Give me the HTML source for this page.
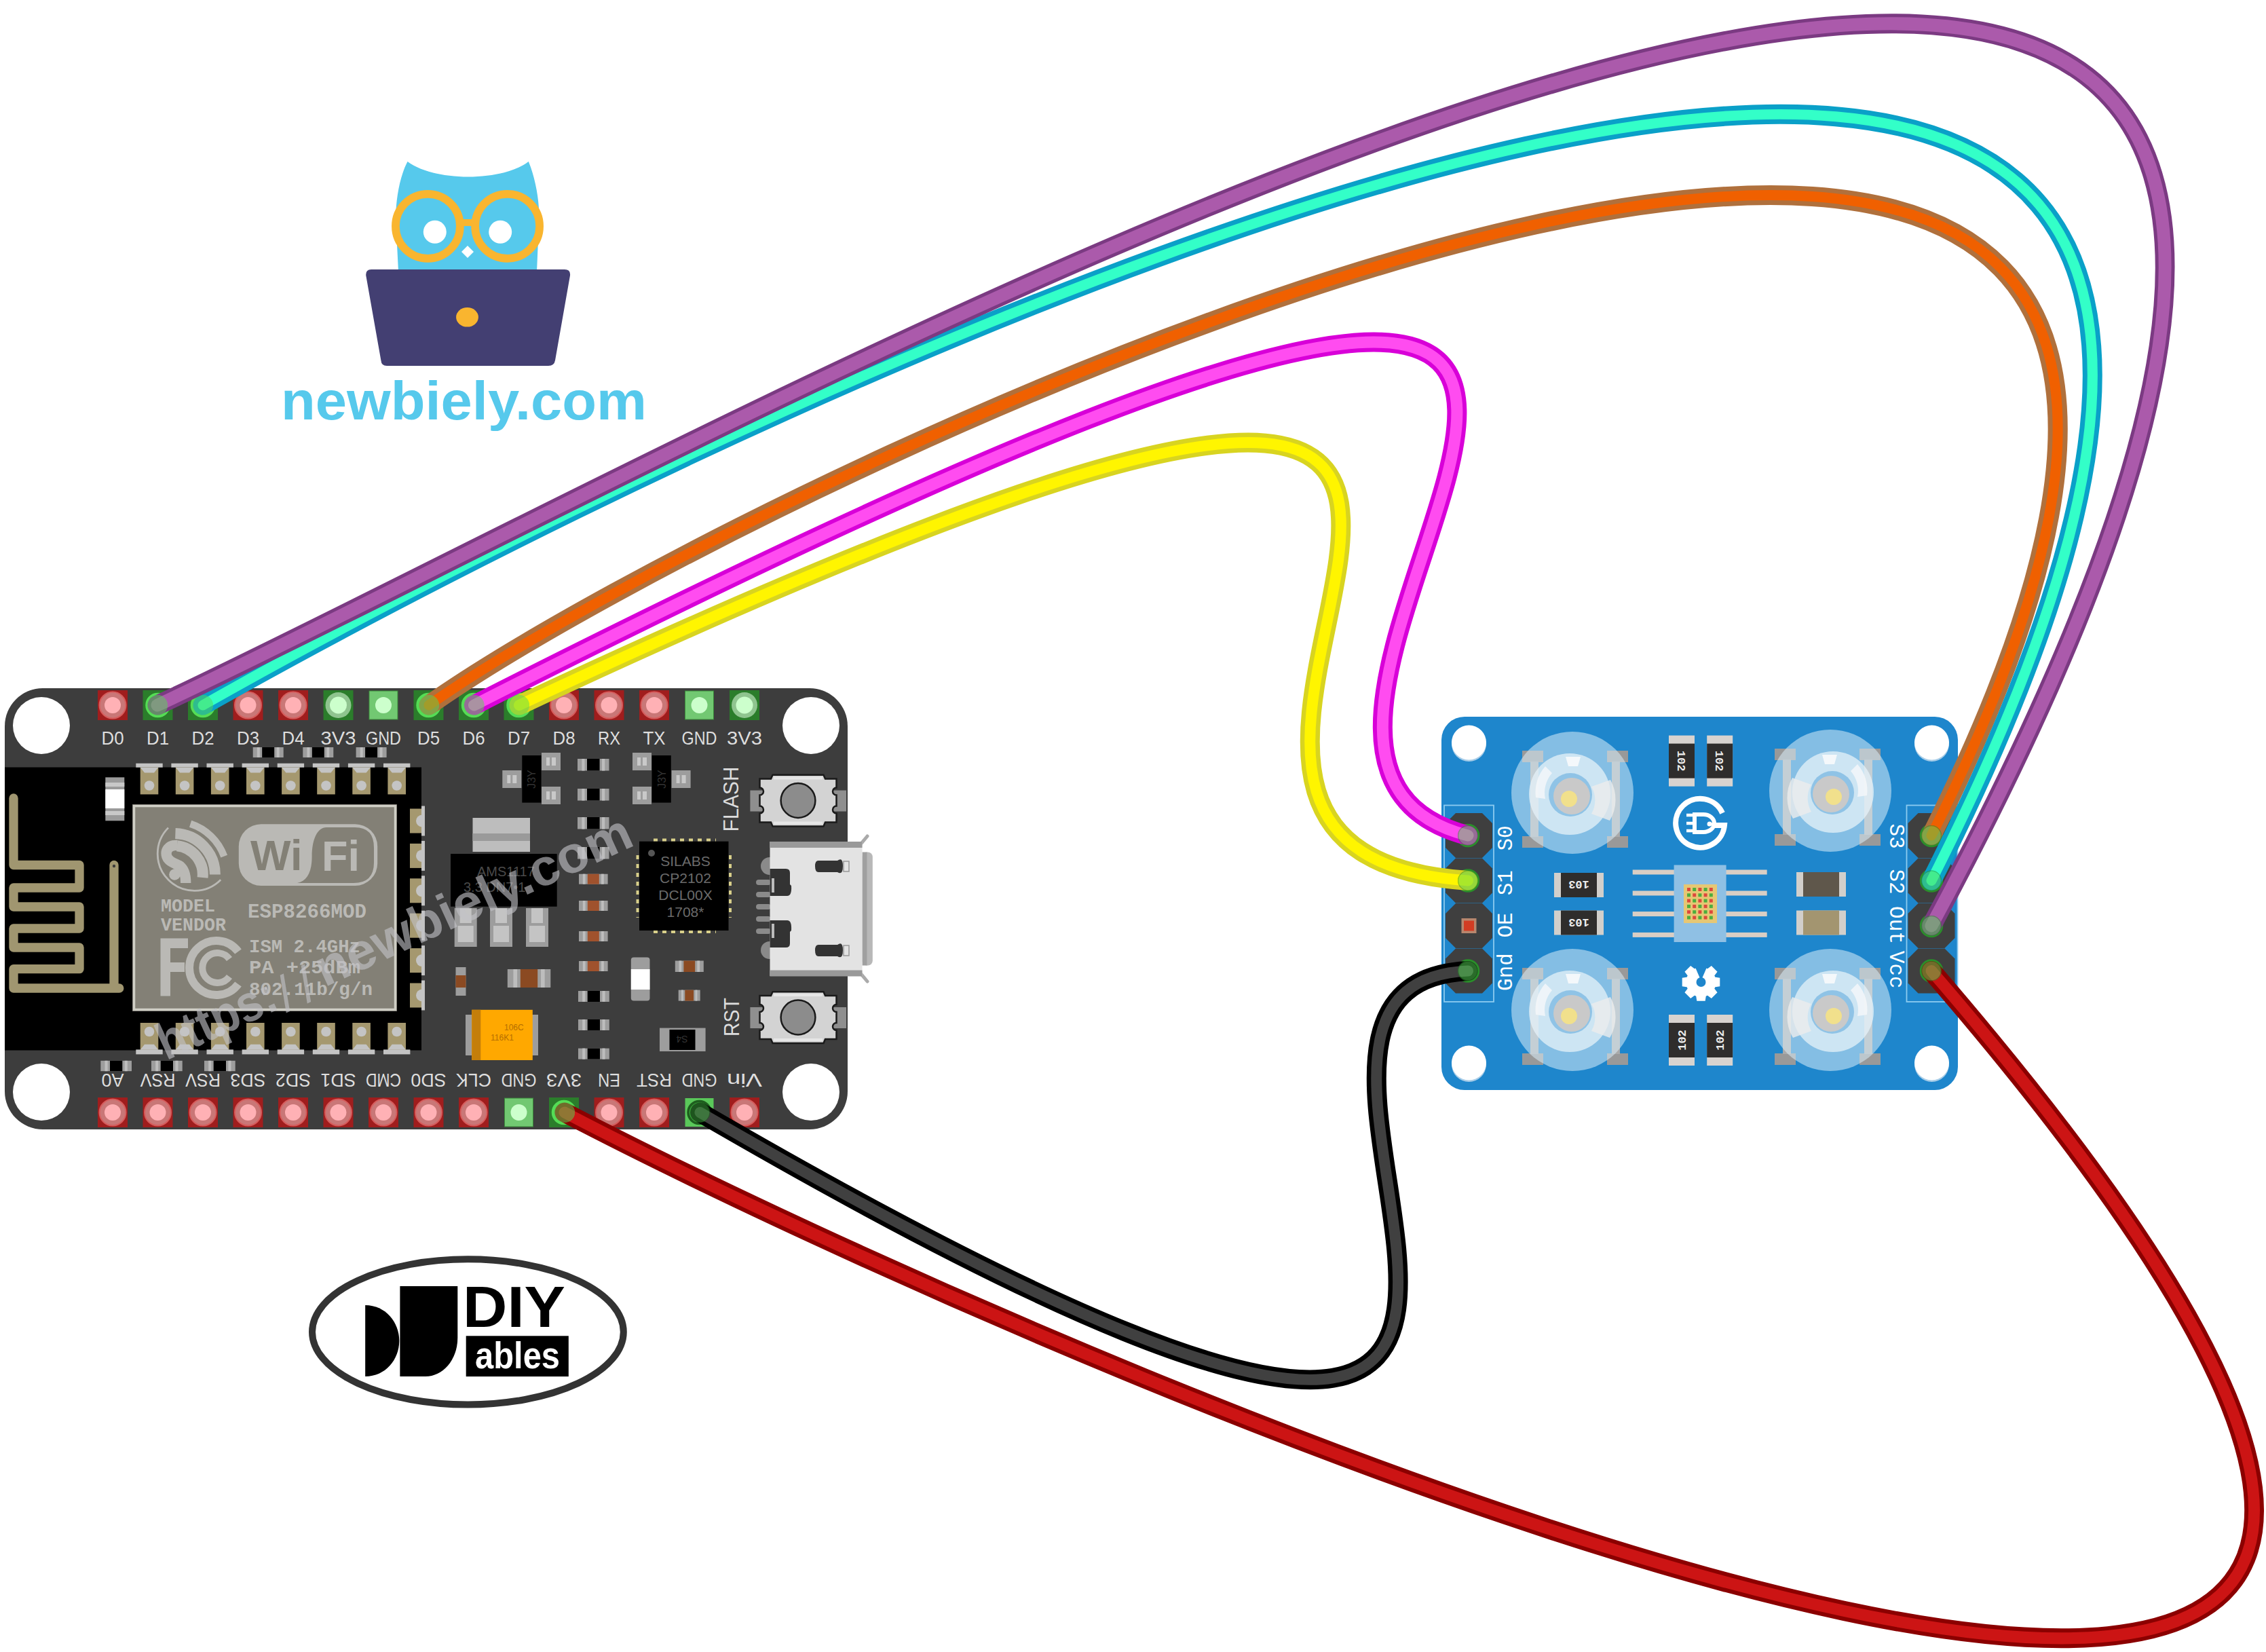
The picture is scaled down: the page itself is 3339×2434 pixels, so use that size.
<!DOCTYPE html><html><head><meta charset="utf-8"><style>html,body{margin:0;padding:0;background:#fff;overflow:hidden}svg{display:block}</style></head><body>
<svg width="3339" height="2434" viewBox="0 0 3339 2434" font-family="Liberation Sans, sans-serif">
<rect width="3339" height="2434" fill="#fff"/>
<g id="owl">
<path d="M600.5,238 C640,268 740,268 778.8,238 C792,270 796,310 794,330 L791,400 H587 L583.5,330 C582,300 588,262 600.5,238 Z" fill="#56c9ec"/>
<g fill="none" stroke="#f9b52f" stroke-width="11.7">
<circle cx="630.4" cy="333.3" r="47.5"/>
<circle cx="747.6" cy="333.3" r="47.5"/>
</g>
<rect x="676" y="323" width="26" height="10" fill="#f9b52f"/>
<circle cx="640.8" cy="341.8" r="17" fill="#fff"/>
<circle cx="737.2" cy="341.8" r="17" fill="#fff"/>
<path d="M689,362 L698,371 L689,380 L680,371 Z" fill="#fff"/>
<path d="M547,397 H832 Q841,397 840,406 L818,531 Q816.6,539 808,539 H570 Q562,539 561.4,531 L539.3,406 Q538.5,397 547,397 Z" fill="#433f72"/>
<ellipse cx="688.5" cy="467.3" rx="16.4" ry="14.3" fill="#f9b52f"/>
<text x="414" y="618" font-family="Liberation Sans" font-weight="bold" font-size="80" fill="#56c9ec" textLength="539" lengthAdjust="spacingAndGlyphs">newbiely.com</text>
</g>
<g id="diyables">
<ellipse cx="689.4" cy="1962.4" rx="229.4" ry="107.1" fill="#fff" stroke="#333" stroke-width="10"/>
<path d="M538.2,1923 C568,1923 588.3,1948 588.3,1975.5 C588.3,2003 568,2028 538.2,2028 Z" fill="#000"/>
<path d="M589.4,1895 H674.3 V1971 C674.3,2004 652,2028 627,2028 H589.4 Z" fill="#000"/>
<text x="682" y="1955" font-family="Liberation Sans" font-weight="bold" font-size="86" fill="#000" textLength="151" lengthAdjust="spacingAndGlyphs">DIY</text>
<rect x="686.7" y="1968.3" width="151.1" height="59.8" fill="#000"/>
<text x="700" y="2016" font-family="Liberation Sans" font-weight="bold" font-size="56" fill="#fff" textLength="125" lengthAdjust="spacingAndGlyphs">ables</text>
</g>
<g id="nodemcu">
<rect x="7" y="1014" width="1242" height="650" rx="56" fill="#3d3d3d"/>
<circle cx="61" cy="1069" r="42" fill="#fff"/>
<circle cx="1195" cy="1069" r="42" fill="#fff"/>
<circle cx="61" cy="1609" r="42" fill="#fff"/>
<circle cx="1195" cy="1609" r="42" fill="#fff"/>
<rect x="7" y="1130.5" width="614" height="417" fill="#000"/>
<path d="M20,1176 V1274.5 H117 V1308 H20 V1336 H117 V1368 H20 V1396 H117 V1427.7 H20 V1456 H175.8 M168,1456 V1274.5" fill="none" stroke="#a09670" stroke-width="13.3" stroke-linecap="round" stroke-linejoin="round"/>
<circle cx="168" cy="1276" r="2.2" fill="#3a3a3a"/>
<rect x="155.3" y="1145.3" width="28" height="64" fill="#9a9a9a"/>
<rect x="155.3" y="1153" width="28" height="6" fill="#c8c8c8"/>
<rect x="155.3" y="1195" width="28" height="6" fill="#c8c8c8"/>
<rect x="155.3" y="1163" width="28" height="28" fill="#fff"/>
<rect x="200.3" y="1124.7" width="39.4" height="6" fill="#c4c4c4"/>
<rect x="206.7" y="1130.7" width="26.6" height="39.7" fill="#a5986f"/>
<path d="M206.7,1130.7 H233.3 L227,1138.6 H213 Z" fill="#c4c4c4"/>
<circle cx="220" cy="1157.5" r="7.3" fill="#c4c4c4"/>
<rect x="252.4" y="1124.7" width="39.4" height="6" fill="#c4c4c4"/>
<rect x="258.8" y="1130.7" width="26.6" height="39.7" fill="#a5986f"/>
<path d="M258.8,1130.7 H285.4 L279.1,1138.6 H265.1 Z" fill="#c4c4c4"/>
<circle cx="272.1" cy="1157.5" r="7.3" fill="#c4c4c4"/>
<rect x="304.5" y="1124.7" width="39.4" height="6" fill="#c4c4c4"/>
<rect x="310.9" y="1130.7" width="26.6" height="39.7" fill="#a5986f"/>
<path d="M310.9,1130.7 H337.5 L331.2,1138.6 H317.2 Z" fill="#c4c4c4"/>
<circle cx="324.2" cy="1157.5" r="7.3" fill="#c4c4c4"/>
<rect x="356.6" y="1124.7" width="39.4" height="6" fill="#c4c4c4"/>
<rect x="363" y="1130.7" width="26.6" height="39.7" fill="#a5986f"/>
<path d="M363,1130.7 H389.6 L383.3,1138.6 H369.3 Z" fill="#c4c4c4"/>
<circle cx="376.3" cy="1157.5" r="7.3" fill="#c4c4c4"/>
<rect x="408.7" y="1124.7" width="39.4" height="6" fill="#c4c4c4"/>
<rect x="415.1" y="1130.7" width="26.6" height="39.7" fill="#a5986f"/>
<path d="M415.1,1130.7 H441.7 L435.4,1138.6 H421.4 Z" fill="#c4c4c4"/>
<circle cx="428.4" cy="1157.5" r="7.3" fill="#c4c4c4"/>
<rect x="460.8" y="1124.7" width="39.4" height="6" fill="#c4c4c4"/>
<rect x="467.2" y="1130.7" width="26.6" height="39.7" fill="#a5986f"/>
<path d="M467.2,1130.7 H493.8 L487.5,1138.6 H473.5 Z" fill="#c4c4c4"/>
<circle cx="480.5" cy="1157.5" r="7.3" fill="#c4c4c4"/>
<rect x="512.9" y="1124.7" width="39.4" height="6" fill="#c4c4c4"/>
<rect x="519.3" y="1130.7" width="26.6" height="39.7" fill="#a5986f"/>
<path d="M519.3,1130.7 H545.9 L539.6,1138.6 H525.6 Z" fill="#c4c4c4"/>
<circle cx="532.6" cy="1157.5" r="7.3" fill="#c4c4c4"/>
<rect x="565" y="1124.7" width="39.4" height="6" fill="#c4c4c4"/>
<rect x="571.4" y="1130.7" width="26.6" height="39.7" fill="#a5986f"/>
<path d="M571.4,1130.7 H598 L591.7,1138.6 H577.7 Z" fill="#c4c4c4"/>
<circle cx="584.7" cy="1157.5" r="7.3" fill="#c4c4c4"/>
<rect x="200.3" y="1546.4" width="39.4" height="7" fill="#c4c4c4"/>
<rect x="206.7" y="1507" width="26.6" height="39.7" fill="#a5986f"/>
<path d="M206.7,1546.7 H233.3 L227,1538.8 H213 Z" fill="#c4c4c4"/>
<circle cx="220" cy="1520" r="7.3" fill="#c4c4c4"/>
<rect x="252.4" y="1546.4" width="39.4" height="7" fill="#c4c4c4"/>
<rect x="258.8" y="1507" width="26.6" height="39.7" fill="#a5986f"/>
<path d="M258.8,1546.7 H285.4 L279.1,1538.8 H265.1 Z" fill="#c4c4c4"/>
<circle cx="272.1" cy="1520" r="7.3" fill="#c4c4c4"/>
<rect x="304.5" y="1546.4" width="39.4" height="7" fill="#c4c4c4"/>
<rect x="310.9" y="1507" width="26.6" height="39.7" fill="#a5986f"/>
<path d="M310.9,1546.7 H337.5 L331.2,1538.8 H317.2 Z" fill="#c4c4c4"/>
<circle cx="324.2" cy="1520" r="7.3" fill="#c4c4c4"/>
<rect x="356.6" y="1546.4" width="39.4" height="7" fill="#c4c4c4"/>
<rect x="363" y="1507" width="26.6" height="39.7" fill="#a5986f"/>
<path d="M363,1546.7 H389.6 L383.3,1538.8 H369.3 Z" fill="#c4c4c4"/>
<circle cx="376.3" cy="1520" r="7.3" fill="#c4c4c4"/>
<rect x="408.7" y="1546.4" width="39.4" height="7" fill="#c4c4c4"/>
<rect x="415.1" y="1507" width="26.6" height="39.7" fill="#a5986f"/>
<path d="M415.1,1546.7 H441.7 L435.4,1538.8 H421.4 Z" fill="#c4c4c4"/>
<circle cx="428.4" cy="1520" r="7.3" fill="#c4c4c4"/>
<rect x="460.8" y="1546.4" width="39.4" height="7" fill="#c4c4c4"/>
<rect x="467.2" y="1507" width="26.6" height="39.7" fill="#a5986f"/>
<path d="M467.2,1546.7 H493.8 L487.5,1538.8 H473.5 Z" fill="#c4c4c4"/>
<circle cx="480.5" cy="1520" r="7.3" fill="#c4c4c4"/>
<rect x="512.9" y="1546.4" width="39.4" height="7" fill="#c4c4c4"/>
<rect x="519.3" y="1507" width="26.6" height="39.7" fill="#a5986f"/>
<path d="M519.3,1546.7 H545.9 L539.6,1538.8 H525.6 Z" fill="#c4c4c4"/>
<circle cx="532.6" cy="1520" r="7.3" fill="#c4c4c4"/>
<rect x="565" y="1546.4" width="39.4" height="7" fill="#c4c4c4"/>
<rect x="571.4" y="1507" width="26.6" height="39.7" fill="#a5986f"/>
<path d="M571.4,1546.7 H598 L591.7,1538.8 H577.7 Z" fill="#c4c4c4"/>
<circle cx="584.7" cy="1520" r="7.3" fill="#c4c4c4"/>
<rect x="604" y="1191.5" width="18" height="36" fill="#a5986f"/>
<path d="M622,1200.5 A9,9 0 0 0 622,1218.5 Z" fill="#c4c4c4"/>
<rect x="621" y="1187.5" width="5" height="44" fill="#c4c4c4"/>
<rect x="604" y="1242.9" width="18" height="36" fill="#a5986f"/>
<path d="M622,1251.9 A9,9 0 0 0 622,1269.9 Z" fill="#c4c4c4"/>
<rect x="621" y="1238.9" width="5" height="44" fill="#c4c4c4"/>
<rect x="604" y="1294.3" width="18" height="36" fill="#a5986f"/>
<path d="M622,1303.3 A9,9 0 0 0 622,1321.3 Z" fill="#c4c4c4"/>
<rect x="621" y="1290.3" width="5" height="44" fill="#c4c4c4"/>
<rect x="604" y="1345.7" width="18" height="36" fill="#a5986f"/>
<path d="M622,1354.7 A9,9 0 0 0 622,1372.7 Z" fill="#c4c4c4"/>
<rect x="621" y="1341.7" width="5" height="44" fill="#c4c4c4"/>
<rect x="604" y="1397.1" width="18" height="36" fill="#a5986f"/>
<path d="M622,1406.1 A9,9 0 0 0 622,1424.1 Z" fill="#c4c4c4"/>
<rect x="621" y="1393.1" width="5" height="44" fill="#c4c4c4"/>
<rect x="604" y="1448.5" width="18" height="36" fill="#a5986f"/>
<path d="M622,1457.5 A9,9 0 0 0 622,1475.5 Z" fill="#c4c4c4"/>
<rect x="621" y="1444.5" width="5" height="44" fill="#c4c4c4"/>
<rect x="195" y="1185" width="390" height="305" fill="#6f6d66"/>
<rect x="197.5" y="1187.5" width="385" height="300" fill="#838076" stroke="#cfcec5" stroke-width="3.5"/>
<g transform="translate(225,1205) scale(0.0696)" fill="none" stroke="#bab9b5">
<path d="M330,210 A730,730 0 1 0 1440,1310" stroke-width="40"/>
<path d="M799,125 A1130,1130 0 0 1 1512,814" stroke-width="150"/>
<path d="M480,331 A870,870 0 0 1 1320,1200" stroke-width="230"/>
<path d="M514,593 A610,610 0 0 1 1057,1264" stroke-width="230"/>
<path d="M520,580 C330,570 260,700 300,820 C340,930 470,960 560,1010 C680,1080 700,1250 700,1380" stroke-width="220"/>
<circle cx="465" cy="1200" r="118" fill="#bab9b5" stroke="none"/>
</g>
<rect x="351.8" y="1214.2" width="204.4" height="90.8" rx="33" fill="#bab9b5"/>
<path d="M481,1219 H523 Q551,1219 551,1249 V1271 Q551,1301 521,1301 H438 C452,1298 459.6,1286 459.6,1262 C459.6,1236 468,1219 481,1219 Z" fill="#838076"/>
<text x="369" y="1282.2" font-family="Liberation Sans" font-weight="bold" font-size="63" fill="#838076">Wi</text>
<text x="474" y="1282.7" font-family="Liberation Sans" font-weight="bold" font-size="63" fill="#bab9b5" textLength="56" lengthAdjust="spacingAndGlyphs">Fi</text>
<text x="237" y="1342.7" font-family="Liberation Mono" font-weight="bold" fill="#bab9b5" font-size="27" textLength="80" lengthAdjust="spacingAndGlyphs">MODEL</text>
<text x="237" y="1370.8" font-family="Liberation Mono" font-weight="bold" fill="#bab9b5" font-size="27" textLength="96" lengthAdjust="spacingAndGlyphs">VENDOR</text>
<text x="365" y="1352.4" font-family="Liberation Mono" font-weight="bold" fill="#bab9b5" font-size="29" textLength="175" lengthAdjust="spacingAndGlyphs">ESP8266MOD</text>
<text x="367" y="1402.7" font-family="Liberation Mono" font-weight="bold" fill="#bab9b5" font-size="27" textLength="164" lengthAdjust="spacingAndGlyphs">ISM 2.4GHz</text>
<text x="367" y="1433.7" font-family="Liberation Mono" font-weight="bold" fill="#bab9b5" font-size="27" textLength="164" lengthAdjust="spacingAndGlyphs">PA  +25dBm</text>
<text x="367" y="1466" font-family="Liberation Mono" font-weight="bold" fill="#bab9b5" font-size="27" textLength="182" lengthAdjust="spacingAndGlyphs">802.11b/g/n</text>
<path d="M236.5,1382.4 H277 V1397 H251 V1418 H272 V1432 H251 V1467.6 H236.5 Z" fill="#bab9b5"/>
<path d="M351,1402 A40,40 0 1 0 351,1450" fill="none" stroke="#bab9b5" stroke-width="12"/>
<path d="M338,1413 A22,22 0 1 0 338,1439" fill="none" stroke="#bab9b5" stroke-width="10"/>
<rect x="372.7" y="1101" width="45" height="15" fill="#9d9d9d"/><rect x="378.8" y="1101" width="4" height="15" fill="#bdbdbd"/><rect x="407.6" y="1101" width="4" height="15" fill="#bdbdbd"/><rect x="386.2" y="1101" width="18" height="15" fill="#000"/>
<rect x="446.3" y="1101" width="45" height="15" fill="#9d9d9d"/><rect x="452.4" y="1101" width="4" height="15" fill="#bdbdbd"/><rect x="481.2" y="1101" width="4" height="15" fill="#bdbdbd"/><rect x="459.8" y="1101" width="18" height="15" fill="#000"/>
<rect x="524.6" y="1101" width="45" height="15" fill="#9d9d9d"/><rect x="530.7" y="1101" width="4" height="15" fill="#bdbdbd"/><rect x="559.5" y="1101" width="4" height="15" fill="#bdbdbd"/><rect x="538.1" y="1101" width="18" height="15" fill="#000"/>
<rect x="148.3" y="1562.8" width="45.7" height="15.4" fill="#9d9d9d"/><rect x="154.5" y="1562.8" width="4.1" height="15.4" fill="#bdbdbd"/><rect x="183.7" y="1562.8" width="4.1" height="15.4" fill="#bdbdbd"/><rect x="162" y="1562.8" width="18.3" height="15.4" fill="#000"/>
<rect x="223" y="1562.8" width="45.7" height="15.4" fill="#9d9d9d"/><rect x="229.2" y="1562.8" width="4.1" height="15.4" fill="#bdbdbd"/><rect x="258.4" y="1562.8" width="4.1" height="15.4" fill="#bdbdbd"/><rect x="236.7" y="1562.8" width="18.3" height="15.4" fill="#000"/>
<rect x="301" y="1562.8" width="45.7" height="15.4" fill="#9d9d9d"/><rect x="307.2" y="1562.8" width="4.1" height="15.4" fill="#bdbdbd"/><rect x="336.4" y="1562.8" width="4.1" height="15.4" fill="#bdbdbd"/><rect x="314.7" y="1562.8" width="18.3" height="15.4" fill="#000"/>
<rect x="769.3" y="1113" width="28.3" height="69.6" fill="#000"/>
<rect x="798" y="1109" width="28" height="26" fill="#9d9d9d"/>
<rect x="805" y="1116" width="14" height="12" fill="#c9c9c9"/>
<rect x="810" y="1116" width="3" height="12" fill="#9d9d9d"/>
<rect x="798" y="1159" width="28" height="26" fill="#9d9d9d"/>
<rect x="805" y="1166" width="14" height="12" fill="#c9c9c9"/>
<rect x="810" y="1166" width="3" height="12" fill="#9d9d9d"/>
<rect x="740.3" y="1135" width="28" height="26" fill="#9d9d9d"/>
<rect x="747.3" y="1142" width="14" height="12" fill="#c9c9c9"/>
<rect x="752.3" y="1142" width="3" height="12" fill="#9d9d9d"/>
<text transform="translate(789.3,1148) rotate(-90)" text-anchor="middle" font-family="Liberation Sans" font-size="16" fill="#333">J3Y</text>
<rect x="960.5" y="1113" width="28.3" height="69.6" fill="#000"/>
<rect x="932" y="1109" width="28" height="26" fill="#9d9d9d"/>
<rect x="939" y="1116" width="14" height="12" fill="#c9c9c9"/>
<rect x="944" y="1116" width="3" height="12" fill="#9d9d9d"/>
<rect x="932" y="1159" width="28" height="26" fill="#9d9d9d"/>
<rect x="939" y="1166" width="14" height="12" fill="#c9c9c9"/>
<rect x="944" y="1166" width="3" height="12" fill="#9d9d9d"/>
<rect x="989.6" y="1135" width="28" height="26" fill="#9d9d9d"/>
<rect x="996.6" y="1142" width="14" height="12" fill="#c9c9c9"/>
<rect x="1001.6" y="1142" width="3" height="12" fill="#9d9d9d"/>
<text transform="translate(980.5,1148) rotate(-90)" text-anchor="middle" font-family="Liberation Sans" font-size="16" fill="#333">J3Y</text>
<rect x="851" y="1118" width="46.5" height="17.5" fill="#9d9d9d"/><rect x="857.3" y="1118" width="4.2" height="17.5" fill="#bdbdbd"/><rect x="887" y="1118" width="4.2" height="17.5" fill="#bdbdbd"/><rect x="865" y="1118" width="18.6" height="17.5" fill="#000"/>
<rect x="851" y="1162" width="46.5" height="17.5" fill="#9d9d9d"/><rect x="857.3" y="1162" width="4.2" height="17.5" fill="#bdbdbd"/><rect x="887" y="1162" width="4.2" height="17.5" fill="#bdbdbd"/><rect x="865" y="1162" width="18.6" height="17.5" fill="#000"/>
<rect x="851" y="1204" width="46.5" height="17.5" fill="#9d9d9d"/><rect x="857.3" y="1204" width="4.2" height="17.5" fill="#bdbdbd"/><rect x="887" y="1204" width="4.2" height="17.5" fill="#bdbdbd"/><rect x="865" y="1204" width="18.6" height="17.5" fill="#000"/>
<rect x="851" y="1248" width="46.5" height="17.5" fill="#9d9d9d"/><rect x="857.3" y="1248" width="4.2" height="17.5" fill="#bdbdbd"/><rect x="887" y="1248" width="4.2" height="17.5" fill="#bdbdbd"/><rect x="865" y="1248" width="18.6" height="17.5" fill="#000"/>
<rect x="853" y="1287.7" width="42.6" height="15" fill="#9d9d9d"/><rect x="858.8" y="1287.7" width="3.8" height="15" fill="#bdbdbd"/><rect x="886" y="1287.7" width="3.8" height="15" fill="#bdbdbd"/><rect x="865.8" y="1287.7" width="17" height="15" fill="#a0522d"/>
<rect x="853" y="1327" width="42.6" height="15" fill="#9d9d9d"/><rect x="858.8" y="1327" width="3.8" height="15" fill="#bdbdbd"/><rect x="886" y="1327" width="3.8" height="15" fill="#bdbdbd"/><rect x="865.8" y="1327" width="17" height="15" fill="#a0522d"/>
<rect x="853" y="1372" width="42.6" height="15" fill="#9d9d9d"/><rect x="858.8" y="1372" width="3.8" height="15" fill="#bdbdbd"/><rect x="886" y="1372" width="3.8" height="15" fill="#bdbdbd"/><rect x="865.8" y="1372" width="17" height="15" fill="#a0522d"/>
<rect x="853" y="1416" width="42.6" height="15" fill="#9d9d9d"/><rect x="858.8" y="1416" width="3.8" height="15" fill="#bdbdbd"/><rect x="886" y="1416" width="3.8" height="15" fill="#bdbdbd"/><rect x="865.8" y="1416" width="17" height="15" fill="#a0522d"/>
<rect x="852" y="1460" width="45.8" height="16" fill="#9d9d9d"/><rect x="858.2" y="1460" width="4.1" height="16" fill="#bdbdbd"/><rect x="887.5" y="1460" width="4.1" height="16" fill="#bdbdbd"/><rect x="865.7" y="1460" width="18.3" height="16" fill="#000"/>
<rect x="852" y="1502" width="45.8" height="16" fill="#9d9d9d"/><rect x="858.2" y="1502" width="4.1" height="16" fill="#bdbdbd"/><rect x="887.5" y="1502" width="4.1" height="16" fill="#bdbdbd"/><rect x="865.7" y="1502" width="18.3" height="16" fill="#000"/>
<rect x="852" y="1544.6" width="45.8" height="16" fill="#9d9d9d"/><rect x="858.2" y="1544.6" width="4.1" height="16" fill="#bdbdbd"/><rect x="887.5" y="1544.6" width="4.1" height="16" fill="#bdbdbd"/><rect x="865.7" y="1544.6" width="18.3" height="16" fill="#000"/>
<rect x="696.5" y="1205" width="84.5" height="50" fill="#bdbdbd"/>
<rect x="696.5" y="1228" width="84.5" height="11" fill="#9a9a9a"/>
<rect x="669.7" y="1338" width="33" height="57" fill="#9d9d9d"/>
<rect x="677.7" y="1338" width="17" height="22" fill="#c4c4c4"/>
<rect x="674.7" y="1364" width="23" height="24" fill="#c4c4c4"/>
<rect x="722" y="1338" width="33" height="57" fill="#9d9d9d"/>
<rect x="730" y="1338" width="17" height="22" fill="#c4c4c4"/>
<rect x="727" y="1364" width="23" height="24" fill="#c4c4c4"/>
<rect x="775" y="1338" width="33" height="57" fill="#9d9d9d"/>
<rect x="783" y="1338" width="17" height="22" fill="#c4c4c4"/>
<rect x="780" y="1364" width="23" height="24" fill="#c4c4c4"/>
<rect x="664" y="1258" width="156.7" height="77.7" fill="#000"/>
<text x="703" y="1291" font-family="Liberation Sans" font-size="20" fill="#4a4a4a">AMS1117</text>
<text x="683" y="1314" font-family="Liberation Sans" font-size="20" fill="#4a4a4a">3.3  DN7•1</text>
<rect x="942" y="1239.7" width="131.5" height="131.3" fill="#000"/>
<g stroke="#d8cf8a" stroke-width="4" stroke-dasharray="6,7" fill="none"><path d="M963,1237.5 H1055"/><path d="M963,1373 H1055"/><path d="M939.5,1260 V1352"/><path d="M1076,1260 V1352"/></g>
<circle cx="960" cy="1257" r="5" fill="#555"/>
<text x="1010" y="1276" text-anchor="middle" font-family="Liberation Sans" font-size="21" fill="#6b6b6b">SILABS</text>
<text x="1010" y="1301" text-anchor="middle" font-family="Liberation Sans" font-size="21" fill="#6b6b6b">CP2102</text>
<text x="1010" y="1326" text-anchor="middle" font-family="Liberation Sans" font-size="21" fill="#6b6b6b">DCL00X</text>
<text x="1010" y="1351" text-anchor="middle" font-family="Liberation Sans" font-size="21" fill="#6b6b6b">1708*</text>
<text transform="translate(1088,1177.5) rotate(-90)" text-anchor="middle" font-family="Liberation Sans" font-size="31" fill="#dcdcdc" textLength="96" lengthAdjust="spacingAndGlyphs">FLASH</text>
<text transform="translate(1089,1498.5) rotate(-90)" text-anchor="middle" font-family="Liberation Sans" font-size="31" fill="#dcdcdc" textLength="57" lengthAdjust="spacingAndGlyphs">RST</text>
<rect x="1105.4" y="1164.5" width="141.6" height="31" fill="#8f8f8f"/>
<path transform="translate(1176,1179.5)" d="M-37.5,-37.7 H37.5 L40,-32 H56.5 V-19 A5.5,5.5 0 0 0 56.5,-8 V8 A5.5,5.5 0 0 0 56.5,19 V32 H40 L37.5,37.9 H-37.5 L-40,32 H-56.5 V19 A5.5,5.5 0 0 0 -56.5,8 V-8 A5.5,5.5 0 0 0 -56.5,-19 V-32 H-40 Z" fill="#d3d3d3" stroke="#1a1a1a" stroke-width="2.5"/>
<rect x="1140" y="1144.5" width="72" height="4" fill="#e6e6e6"/>
<rect x="1140" y="1210.5" width="72" height="4" fill="#e6e6e6"/>
<circle cx="1176" cy="1179.5" r="25.4" fill="#8c8c8c" stroke="#1a1a1a" stroke-width="2.5"/>
<rect x="1105.4" y="1484" width="141.6" height="31" fill="#8f8f8f"/>
<path transform="translate(1176,1499)" d="M-37.5,-37.7 H37.5 L40,-32 H56.5 V-19 A5.5,5.5 0 0 0 56.5,-8 V8 A5.5,5.5 0 0 0 56.5,19 V32 H40 L37.5,37.9 H-37.5 L-40,32 H-56.5 V19 A5.5,5.5 0 0 0 -56.5,8 V-8 A5.5,5.5 0 0 0 -56.5,-19 V-32 H-40 Z" fill="#d3d3d3" stroke="#1a1a1a" stroke-width="2.5"/>
<rect x="1140" y="1464" width="72" height="4" fill="#e6e6e6"/>
<rect x="1140" y="1530" width="72" height="4" fill="#e6e6e6"/>
<circle cx="1176" cy="1499" r="25.4" fill="#8c8c8c" stroke="#1a1a1a" stroke-width="2.5"/>
<g>
<rect x="1114" y="1296" width="22" height="8" rx="4" fill="#8a8a8a"/>
<rect x="1114" y="1314" width="22" height="8" rx="4" fill="#8a8a8a"/>
<rect x="1114" y="1332" width="22" height="8" rx="4" fill="#8a8a8a"/>
<rect x="1114" y="1350" width="22" height="8" rx="4" fill="#8a8a8a"/>
<rect x="1114" y="1368" width="22" height="8" rx="4" fill="#8a8a8a"/>
<circle cx="1134" cy="1276" r="13" fill="#8a8a8a"/>
<circle cx="1134" cy="1400" r="13" fill="#8a8a8a"/>
<rect x="1270.5" y="1255.5" width="15.3" height="167" rx="7" fill="#b8b8b8"/>
<rect x="1270.5" y="1255.5" width="7" height="167" fill="#a0a0a0"/>
<path d="M1268,1244 L1278,1232 M1268,1434 L1278,1446" stroke="#aaa" stroke-width="5" stroke-linecap="round"/>
<rect x="1134.5" y="1240" width="136" height="198" fill="#e3e3e3"/>
<rect x="1134.5" y="1240" width="136" height="9" fill="#999"/>
<rect x="1134.5" y="1429.5" width="136" height="9" fill="#999"/>
<path d="M1134.5,1280 H1158 Q1164,1280 1164,1286 V1303 L1166,1305 Q1167,1320 1160,1320 H1134.5 Z" fill="#333"/>
<path d="M1134.5,1396 H1158 Q1164,1396 1164,1390 V1373 L1166,1371 Q1167,1356 1160,1356 H1134.5 Z" fill="#333"/>
<rect x="1137" y="1294" width="4" height="21" fill="#bbb"/><rect x="1137" y="1361" width="4" height="21" fill="#bbb"/>
<path d="M1206,1268 H1234 Q1242,1262 1242,1276 Q1242,1290 1234,1285 H1206 Q1201,1285 1201,1276 Q1201,1268 1206,1268 Z" fill="#333"/>
<rect x="1243" y="1269" width="8" height="15" fill="none" stroke="#999" stroke-width="1.5"/>
<path d="M1206,1392 H1234 Q1242,1386 1242,1400 Q1242,1414 1234,1409 H1206 Q1201,1409 1201,1400 Q1201,1392 1206,1392 Z" fill="#333"/>
<rect x="1243" y="1393" width="8" height="15" fill="none" stroke="#999" stroke-width="1.5"/>
</g>
<rect x="747.8" y="1428" width="63.5" height="27" fill="#9d9d9d"/><rect x="756.4" y="1428" width="5.7" height="27" fill="#bdbdbd"/><rect x="797" y="1428" width="5.7" height="27" fill="#bdbdbd"/><rect x="766.8" y="1428" width="25.4" height="27" fill="#8b4a22"/>
<rect x="671.5" y="1425" width="15" height="42" fill="#9d9d9d"/><rect x="671.5" y="1437" width="15" height="18" fill="#8b4a22"/>
<rect x="686" y="1495" width="107" height="60" fill="#9d9d9d"/>
<rect x="695.3" y="1487.8" width="89.5" height="74.2" fill="#ffa800"/>
<rect x="695.3" y="1487.8" width="13" height="74.2" fill="#c47e0a"/>
<text x="743" y="1518" font-family="Liberation Sans" font-size="12" fill="#b56e00">106C</text>
<text x="723" y="1533" font-family="Liberation Sans" font-size="12" fill="#b56e00">116K1</text>
<rect x="929.8" y="1410.6" width="27.7" height="64" rx="4" fill="#9d9d9d"/>
<rect x="929.8" y="1428" width="27.7" height="30" fill="#fff"/>
<rect x="994.8" y="1415.5" width="42" height="16.5" fill="#9d9d9d"/><rect x="1000.5" y="1415.5" width="3.8" height="16.5" fill="#bdbdbd"/><rect x="1027.3" y="1415.5" width="3.8" height="16.5" fill="#bdbdbd"/><rect x="1007.4" y="1415.5" width="16.8" height="16.5" fill="#8b4a22"/>
<rect x="999.7" y="1458.6" width="32" height="16" fill="#9d9d9d"/><rect x="1004" y="1458.6" width="2.9" height="16" fill="#bdbdbd"/><rect x="1024.5" y="1458.6" width="2.9" height="16" fill="#bdbdbd"/><rect x="1009.3" y="1458.6" width="12.8" height="16" fill="#8b4a22"/>
<rect x="972" y="1514.6" width="67.6" height="34.4" fill="#9d9d9d"/>
<rect x="986.5" y="1517" width="38" height="30" fill="#000"/>
<text transform="translate(1005,1531) rotate(180)" text-anchor="middle" font-family="Liberation Sans" font-size="14" fill="#333" dy="5">S4</text>
<rect x="144" y="1017" width="44" height="44" fill="#a01d1d"/>
<circle cx="166" cy="1039" r="19.5" fill="#c97777" stroke="#d65c5c" stroke-width="2"/>
<circle cx="166" cy="1039" r="12" fill="#ffb1b5"/>
<text x="166" y="1096.5" font-family="Liberation Sans" font-size="27" fill="#dedede" text-anchor="middle" textLength="33" lengthAdjust="spacingAndGlyphs">D0</text>
<rect x="210.5" y="1017" width="44" height="44" fill="#2b7d2b"/>
<circle cx="232.5" cy="1039" r="16.5" fill="#55d855" stroke="#55dd55" stroke-width="3.5"/>
<text x="232.5" y="1096.5" font-family="Liberation Sans" font-size="27" fill="#dedede" text-anchor="middle" textLength="33" lengthAdjust="spacingAndGlyphs">D1</text>
<rect x="277" y="1017" width="44" height="44" fill="#2b7d2b"/>
<circle cx="299" cy="1039" r="16.5" fill="#55d855" stroke="#55dd55" stroke-width="3.5"/>
<text x="299" y="1096.5" font-family="Liberation Sans" font-size="27" fill="#dedede" text-anchor="middle" textLength="33" lengthAdjust="spacingAndGlyphs">D2</text>
<rect x="343.5" y="1017" width="44" height="44" fill="#a01d1d"/>
<circle cx="365.5" cy="1039" r="19.5" fill="#c97777" stroke="#d65c5c" stroke-width="2"/>
<circle cx="365.5" cy="1039" r="12" fill="#ffb1b5"/>
<text x="365.5" y="1096.5" font-family="Liberation Sans" font-size="27" fill="#dedede" text-anchor="middle" textLength="33" lengthAdjust="spacingAndGlyphs">D3</text>
<rect x="410" y="1017" width="44" height="44" fill="#a01d1d"/>
<circle cx="432" cy="1039" r="19.5" fill="#c97777" stroke="#d65c5c" stroke-width="2"/>
<circle cx="432" cy="1039" r="12" fill="#ffb1b5"/>
<text x="432" y="1096.5" font-family="Liberation Sans" font-size="27" fill="#dedede" text-anchor="middle" textLength="33" lengthAdjust="spacingAndGlyphs">D4</text>
<rect x="476.5" y="1017" width="44" height="44" fill="#2b7d2b"/>
<circle cx="498.5" cy="1039" r="19" fill="#8fc48f"/>
<circle cx="498.5" cy="1039" r="12.5" fill="#ccffcc"/>
<text x="498.5" y="1096.5" font-family="Liberation Sans" font-size="27" fill="#dedede" text-anchor="middle" textLength="52" lengthAdjust="spacingAndGlyphs">3V3</text>
<rect x="544" y="1018" width="42" height="42" fill="#72c872" stroke="#3a8a3a" stroke-width="1"/>
<circle cx="565" cy="1039" r="12" fill="#ccffcc"/>
<text x="565" y="1096.5" font-family="Liberation Sans" font-size="27" fill="#dedede" text-anchor="middle" textLength="52" lengthAdjust="spacingAndGlyphs">GND</text>
<rect x="609.5" y="1017" width="44" height="44" fill="#2b7d2b"/>
<circle cx="631.5" cy="1039" r="16.5" fill="#55d855" stroke="#55dd55" stroke-width="3.5"/>
<text x="631.5" y="1096.5" font-family="Liberation Sans" font-size="27" fill="#dedede" text-anchor="middle" textLength="33" lengthAdjust="spacingAndGlyphs">D5</text>
<rect x="676" y="1017" width="44" height="44" fill="#2b7d2b"/>
<circle cx="698" cy="1039" r="16.5" fill="#55d855" stroke="#55dd55" stroke-width="3.5"/>
<text x="698" y="1096.5" font-family="Liberation Sans" font-size="27" fill="#dedede" text-anchor="middle" textLength="33" lengthAdjust="spacingAndGlyphs">D6</text>
<rect x="742.5" y="1017" width="44" height="44" fill="#2b7d2b"/>
<circle cx="764.5" cy="1039" r="16.5" fill="#55d855" stroke="#55dd55" stroke-width="3.5"/>
<text x="764.5" y="1096.5" font-family="Liberation Sans" font-size="27" fill="#dedede" text-anchor="middle" textLength="33" lengthAdjust="spacingAndGlyphs">D7</text>
<rect x="809" y="1017" width="44" height="44" fill="#a01d1d"/>
<circle cx="831" cy="1039" r="19.5" fill="#c97777" stroke="#d65c5c" stroke-width="2"/>
<circle cx="831" cy="1039" r="12" fill="#ffb1b5"/>
<text x="831" y="1096.5" font-family="Liberation Sans" font-size="27" fill="#dedede" text-anchor="middle" textLength="33" lengthAdjust="spacingAndGlyphs">D8</text>
<rect x="875.5" y="1017" width="44" height="44" fill="#a01d1d"/>
<circle cx="897.5" cy="1039" r="19.5" fill="#c97777" stroke="#d65c5c" stroke-width="2"/>
<circle cx="897.5" cy="1039" r="12" fill="#ffb1b5"/>
<text x="897.5" y="1096.5" font-family="Liberation Sans" font-size="27" fill="#dedede" text-anchor="middle" textLength="33" lengthAdjust="spacingAndGlyphs">RX</text>
<rect x="942" y="1017" width="44" height="44" fill="#a01d1d"/>
<circle cx="964" cy="1039" r="19.5" fill="#c97777" stroke="#d65c5c" stroke-width="2"/>
<circle cx="964" cy="1039" r="12" fill="#ffb1b5"/>
<text x="964" y="1096.5" font-family="Liberation Sans" font-size="27" fill="#dedede" text-anchor="middle" textLength="33" lengthAdjust="spacingAndGlyphs">TX</text>
<rect x="1009.5" y="1018" width="42" height="42" fill="#72c872" stroke="#3a8a3a" stroke-width="1"/>
<circle cx="1030.5" cy="1039" r="12" fill="#ccffcc"/>
<text x="1030.5" y="1096.5" font-family="Liberation Sans" font-size="27" fill="#dedede" text-anchor="middle" textLength="52" lengthAdjust="spacingAndGlyphs">GND</text>
<rect x="1075" y="1017" width="44" height="44" fill="#2b7d2b"/>
<circle cx="1097" cy="1039" r="19" fill="#8fc48f"/>
<circle cx="1097" cy="1039" r="12.5" fill="#ccffcc"/>
<text x="1097" y="1096.5" font-family="Liberation Sans" font-size="27" fill="#dedede" text-anchor="middle" textLength="52" lengthAdjust="spacingAndGlyphs">3V3</text>
<rect x="144" y="1617" width="44" height="44" fill="#a01d1d"/>
<circle cx="166" cy="1639" r="19.5" fill="#c97777" stroke="#d65c5c" stroke-width="2"/>
<circle cx="166" cy="1639" r="12" fill="#ffb1b5"/>
<text transform="translate(166,1581.5) rotate(180)" font-family="Liberation Sans" font-size="27" fill="#dedede" text-anchor="middle" textLength="33" lengthAdjust="spacingAndGlyphs">A0</text>
<rect x="210.5" y="1617" width="44" height="44" fill="#a01d1d"/>
<circle cx="232.5" cy="1639" r="19.5" fill="#c97777" stroke="#d65c5c" stroke-width="2"/>
<circle cx="232.5" cy="1639" r="12" fill="#ffb1b5"/>
<text transform="translate(232.5,1581.5) rotate(180)" font-family="Liberation Sans" font-size="27" fill="#dedede" text-anchor="middle" textLength="52" lengthAdjust="spacingAndGlyphs">RSV</text>
<rect x="277" y="1617" width="44" height="44" fill="#a01d1d"/>
<circle cx="299" cy="1639" r="19.5" fill="#c97777" stroke="#d65c5c" stroke-width="2"/>
<circle cx="299" cy="1639" r="12" fill="#ffb1b5"/>
<text transform="translate(299,1581.5) rotate(180)" font-family="Liberation Sans" font-size="27" fill="#dedede" text-anchor="middle" textLength="52" lengthAdjust="spacingAndGlyphs">RSV</text>
<rect x="343.5" y="1617" width="44" height="44" fill="#a01d1d"/>
<circle cx="365.5" cy="1639" r="19.5" fill="#c97777" stroke="#d65c5c" stroke-width="2"/>
<circle cx="365.5" cy="1639" r="12" fill="#ffb1b5"/>
<text transform="translate(365.5,1581.5) rotate(180)" font-family="Liberation Sans" font-size="27" fill="#dedede" text-anchor="middle" textLength="52" lengthAdjust="spacingAndGlyphs">SD3</text>
<rect x="410" y="1617" width="44" height="44" fill="#a01d1d"/>
<circle cx="432" cy="1639" r="19.5" fill="#c97777" stroke="#d65c5c" stroke-width="2"/>
<circle cx="432" cy="1639" r="12" fill="#ffb1b5"/>
<text transform="translate(432,1581.5) rotate(180)" font-family="Liberation Sans" font-size="27" fill="#dedede" text-anchor="middle" textLength="52" lengthAdjust="spacingAndGlyphs">SD2</text>
<rect x="476.5" y="1617" width="44" height="44" fill="#a01d1d"/>
<circle cx="498.5" cy="1639" r="19.5" fill="#c97777" stroke="#d65c5c" stroke-width="2"/>
<circle cx="498.5" cy="1639" r="12" fill="#ffb1b5"/>
<text transform="translate(498.5,1581.5) rotate(180)" font-family="Liberation Sans" font-size="27" fill="#dedede" text-anchor="middle" textLength="52" lengthAdjust="spacingAndGlyphs">SD1</text>
<rect x="543" y="1617" width="44" height="44" fill="#a01d1d"/>
<circle cx="565" cy="1639" r="19.5" fill="#c97777" stroke="#d65c5c" stroke-width="2"/>
<circle cx="565" cy="1639" r="12" fill="#ffb1b5"/>
<text transform="translate(565,1581.5) rotate(180)" font-family="Liberation Sans" font-size="27" fill="#dedede" text-anchor="middle" textLength="52" lengthAdjust="spacingAndGlyphs">CMD</text>
<rect x="609.5" y="1617" width="44" height="44" fill="#a01d1d"/>
<circle cx="631.5" cy="1639" r="19.5" fill="#c97777" stroke="#d65c5c" stroke-width="2"/>
<circle cx="631.5" cy="1639" r="12" fill="#ffb1b5"/>
<text transform="translate(631.5,1581.5) rotate(180)" font-family="Liberation Sans" font-size="27" fill="#dedede" text-anchor="middle" textLength="52" lengthAdjust="spacingAndGlyphs">SD0</text>
<rect x="676" y="1617" width="44" height="44" fill="#a01d1d"/>
<circle cx="698" cy="1639" r="19.5" fill="#c97777" stroke="#d65c5c" stroke-width="2"/>
<circle cx="698" cy="1639" r="12" fill="#ffb1b5"/>
<text transform="translate(698,1581.5) rotate(180)" font-family="Liberation Sans" font-size="27" fill="#dedede" text-anchor="middle" textLength="52" lengthAdjust="spacingAndGlyphs">CLK</text>
<rect x="743.5" y="1618" width="42" height="42" fill="#72c872" stroke="#3a8a3a" stroke-width="1"/>
<circle cx="764.5" cy="1639" r="12" fill="#ccffcc"/>
<text transform="translate(764.5,1581.5) rotate(180)" font-family="Liberation Sans" font-size="27" fill="#dedede" text-anchor="middle" textLength="52" lengthAdjust="spacingAndGlyphs">GND</text>
<rect x="809" y="1617" width="44" height="44" fill="#2b7d2b"/>
<circle cx="831" cy="1639" r="16.5" fill="#55d855" stroke="#55dd55" stroke-width="3.5"/>
<text transform="translate(831,1581.5) rotate(180)" font-family="Liberation Sans" font-size="27" fill="#dedede" text-anchor="middle" textLength="52" lengthAdjust="spacingAndGlyphs">3V3</text>
<rect x="875.5" y="1617" width="44" height="44" fill="#a01d1d"/>
<circle cx="897.5" cy="1639" r="19.5" fill="#c97777" stroke="#d65c5c" stroke-width="2"/>
<circle cx="897.5" cy="1639" r="12" fill="#ffb1b5"/>
<text transform="translate(897.5,1581.5) rotate(180)" font-family="Liberation Sans" font-size="27" fill="#dedede" text-anchor="middle" textLength="33" lengthAdjust="spacingAndGlyphs">EN</text>
<rect x="942" y="1617" width="44" height="44" fill="#a01d1d"/>
<circle cx="964" cy="1639" r="19.5" fill="#c97777" stroke="#d65c5c" stroke-width="2"/>
<circle cx="964" cy="1639" r="12" fill="#ffb1b5"/>
<text transform="translate(964,1581.5) rotate(180)" font-family="Liberation Sans" font-size="27" fill="#dedede" text-anchor="middle" textLength="52" lengthAdjust="spacingAndGlyphs">RST</text>
<rect x="1009.5" y="1618" width="42" height="42" fill="#5ac85a"/>
<circle cx="1030.5" cy="1639" r="16.5" fill="#3caa3c" stroke="#1e5e1e" stroke-width="3.5"/>
<text transform="translate(1030.5,1581.5) rotate(180)" font-family="Liberation Sans" font-size="27" fill="#dedede" text-anchor="middle" textLength="52" lengthAdjust="spacingAndGlyphs">GND</text>
<rect x="1075" y="1617" width="44" height="44" fill="#a01d1d"/>
<circle cx="1097" cy="1639" r="19.5" fill="#c97777" stroke="#d65c5c" stroke-width="2"/>
<circle cx="1097" cy="1639" r="12" fill="#ffb1b5"/>
<text transform="translate(1097,1581.5) rotate(180)" font-family="Liberation Sans" font-size="27" fill="#dedede" text-anchor="middle" textLength="52" lengthAdjust="spacingAndGlyphs">Vin</text>
</g>
<g transform="translate(250,1563.8) rotate(-24.6)" fill="#c2c2c6" fill-opacity="0.62" font-family="Liberation Sans"><text x="-4" y="-3" font-weight="bold" font-size="76" textLength="186" lengthAdjust="spacingAndGlyphs">https:</text><text x="186" y="6" font-size="74">/</text><text x="220" y="6" font-size="74">/</text><text x="253" y="-4" font-weight="bold" font-size="76" textLength="505" lengthAdjust="spacingAndGlyphs">newbiely.com</text></g>
<g id="sensor">
<rect x="2124" y="1056" width="761" height="550" rx="34" fill="#1e86cc"/>
<circle cx="2164.5" cy="1096.5" r="25.5" fill="#a8cde8"/>
<circle cx="2164.5" cy="1094" r="25.5" fill="#fff"/>
<circle cx="2846.5" cy="1096.5" r="25.5" fill="#a8cde8"/>
<circle cx="2846.5" cy="1094" r="25.5" fill="#fff"/>
<circle cx="2164.5" cy="1568.5" r="25.5" fill="#a8cde8"/>
<circle cx="2164.5" cy="1566" r="25.5" fill="#fff"/>
<circle cx="2846.5" cy="1568.5" r="25.5" fill="#a8cde8"/>
<circle cx="2846.5" cy="1566" r="25.5" fill="#fff"/>
<g transform="translate(2317,1169) scale(1,1)">
<rect x="-74" y="-63" width="31" height="17" fill="#999"/>
<rect x="-74" y="63" width="31" height="17" fill="#999"/>
<rect x="-62" y="-47" width="12" height="111" fill="#aaa"/>
<rect x="51" y="-63" width="31" height="17" fill="#999"/>
<rect x="51" y="63" width="31" height="17" fill="#999"/>
<rect x="58" y="-47" width="12" height="111" fill="#aaa"/>
<circle cx="0" cy="-1" r="90" fill="#d8ecf8" fill-opacity="0.55"/>
<circle cx="-4" cy="1" r="60" fill="#e6f1f8" fill-opacity="0.75"/>
<path d="M-40,-40 A58,58 0 0 0 -54,6 L-40,8 A44,44 0 0 1 -30,-30 Z" fill="#f6f8fa" fill-opacity="0.8"/>
<path d="M-10,-54 H12 L8,-40 H-6 Z" fill="#f4f8fb"/>
<path d="M28,-10 A40,40 0 0 1 28,30 L55,40 A60,60 0 0 0 56,-20 Z" fill="#ececec" fill-opacity="0.8"/>
<circle cx="-3" cy="2" r="32" fill="#8fc3e6"/>
<circle cx="-1" cy="4" r="27" fill="#c9c9c9"/>
<circle cx="-5" cy="8" r="12" fill="#f1e08c"/>
</g>
<g transform="translate(2697,1166) scale(-1,1)">
<rect x="-74" y="-63" width="31" height="17" fill="#999"/>
<rect x="-74" y="63" width="31" height="17" fill="#999"/>
<rect x="-62" y="-47" width="12" height="111" fill="#aaa"/>
<rect x="51" y="-63" width="31" height="17" fill="#999"/>
<rect x="51" y="63" width="31" height="17" fill="#999"/>
<rect x="58" y="-47" width="12" height="111" fill="#aaa"/>
<circle cx="0" cy="-1" r="90" fill="#d8ecf8" fill-opacity="0.55"/>
<circle cx="-4" cy="1" r="60" fill="#e6f1f8" fill-opacity="0.75"/>
<path d="M-40,-40 A58,58 0 0 0 -54,6 L-40,8 A44,44 0 0 1 -30,-30 Z" fill="#f6f8fa" fill-opacity="0.8"/>
<path d="M-10,-54 H12 L8,-40 H-6 Z" fill="#f4f8fb"/>
<path d="M28,-10 A40,40 0 0 1 28,30 L55,40 A60,60 0 0 0 56,-20 Z" fill="#ececec" fill-opacity="0.8"/>
<circle cx="-3" cy="2" r="32" fill="#8fc3e6"/>
<circle cx="-1" cy="4" r="27" fill="#c9c9c9"/>
<circle cx="-5" cy="8" r="12" fill="#f1e08c"/>
</g>
<g transform="translate(2317,1489) scale(1,1)">
<rect x="-74" y="-63" width="31" height="17" fill="#999"/>
<rect x="-74" y="63" width="31" height="17" fill="#999"/>
<rect x="-62" y="-47" width="12" height="111" fill="#aaa"/>
<rect x="51" y="-63" width="31" height="17" fill="#999"/>
<rect x="51" y="63" width="31" height="17" fill="#999"/>
<rect x="58" y="-47" width="12" height="111" fill="#aaa"/>
<circle cx="0" cy="-1" r="90" fill="#d8ecf8" fill-opacity="0.55"/>
<circle cx="-4" cy="1" r="60" fill="#e6f1f8" fill-opacity="0.75"/>
<path d="M-40,-40 A58,58 0 0 0 -54,6 L-40,8 A44,44 0 0 1 -30,-30 Z" fill="#f6f8fa" fill-opacity="0.8"/>
<path d="M-10,-54 H12 L8,-40 H-6 Z" fill="#f4f8fb"/>
<path d="M28,-10 A40,40 0 0 1 28,30 L55,40 A60,60 0 0 0 56,-20 Z" fill="#ececec" fill-opacity="0.8"/>
<circle cx="-3" cy="2" r="32" fill="#8fc3e6"/>
<circle cx="-1" cy="4" r="27" fill="#c9c9c9"/>
<circle cx="-5" cy="8" r="12" fill="#f1e08c"/>
</g>
<g transform="translate(2697,1489) scale(-1,1)">
<rect x="-74" y="-63" width="31" height="17" fill="#999"/>
<rect x="-74" y="63" width="31" height="17" fill="#999"/>
<rect x="-62" y="-47" width="12" height="111" fill="#aaa"/>
<rect x="51" y="-63" width="31" height="17" fill="#999"/>
<rect x="51" y="63" width="31" height="17" fill="#999"/>
<rect x="58" y="-47" width="12" height="111" fill="#aaa"/>
<circle cx="0" cy="-1" r="90" fill="#d8ecf8" fill-opacity="0.55"/>
<circle cx="-4" cy="1" r="60" fill="#e6f1f8" fill-opacity="0.75"/>
<path d="M-40,-40 A58,58 0 0 0 -54,6 L-40,8 A44,44 0 0 1 -30,-30 Z" fill="#f6f8fa" fill-opacity="0.8"/>
<path d="M-10,-54 H12 L8,-40 H-6 Z" fill="#f4f8fb"/>
<path d="M28,-10 A40,40 0 0 1 28,30 L55,40 A60,60 0 0 0 56,-20 Z" fill="#ececec" fill-opacity="0.8"/>
<circle cx="-3" cy="2" r="32" fill="#8fc3e6"/>
<circle cx="-1" cy="4" r="27" fill="#c9c9c9"/>
<circle cx="-5" cy="8" r="12" fill="#f1e08c"/>
</g>
<rect x="2459" y="1083.6" width="38" height="75" fill="#d8d3cf"/>
<rect x="2459" y="1095.6" width="38" height="51" fill="#2f2d2c"/>
<text transform="translate(2478,1121.1) rotate(90)" text-anchor="middle" dy="6" font-family="Liberation Mono" font-weight="bold" font-size="17" fill="#eee">102</text>
<rect x="2515.2" y="1083.6" width="38" height="75" fill="#d8d3cf"/>
<rect x="2515.2" y="1095.6" width="38" height="51" fill="#2f2d2c"/>
<text transform="translate(2534.2,1121.1) rotate(90)" text-anchor="middle" dy="6" font-family="Liberation Mono" font-weight="bold" font-size="17" fill="#eee">102</text>
<rect x="2459" y="1495" width="38" height="75" fill="#d8d3cf"/>
<rect x="2459" y="1507" width="38" height="51" fill="#2f2d2c"/>
<text transform="translate(2478,1532.5) rotate(-90)" text-anchor="middle" dy="6" font-family="Liberation Mono" font-weight="bold" font-size="17" fill="#eee">102</text>
<rect x="2515.2" y="1495" width="38" height="75" fill="#d8d3cf"/>
<rect x="2515.2" y="1507" width="38" height="51" fill="#2f2d2c"/>
<text transform="translate(2534.2,1532.5) rotate(-90)" text-anchor="middle" dy="6" font-family="Liberation Mono" font-weight="bold" font-size="17" fill="#eee">102</text>
<rect x="2290" y="1286" width="73" height="36" fill="#d2cfcb"/>
<rect x="2300" y="1286" width="53" height="36" fill="#2f2d2c"/>
<text transform="translate(2326.5,1304) rotate(180)" text-anchor="middle" dy="6" font-family="Liberation Mono" font-weight="bold" font-size="17" fill="#eee">103</text>
<rect x="2290" y="1341.5" width="73" height="36" fill="#d2cfcb"/>
<rect x="2300" y="1341.5" width="53" height="36" fill="#2f2d2c"/>
<text transform="translate(2326.5,1359.5) rotate(180)" text-anchor="middle" dy="6" font-family="Liberation Mono" font-weight="bold" font-size="17" fill="#eee">103</text>
<rect x="2647" y="1285" width="73" height="36" fill="#d2cfcb"/>
<rect x="2657" y="1285" width="53" height="36" fill="#5f574b"/>
<rect x="2647" y="1341.5" width="73" height="36" fill="#d2cfcb"/>
<rect x="2657" y="1341.5" width="53" height="36" fill="#a39570"/>
<rect x="2405.7" y="1281.5" width="198" height="7" fill="#d9cec4"/>
<rect x="2405.7" y="1312.5" width="198" height="7" fill="#d9cec4"/>
<rect x="2405.7" y="1343.1" width="198" height="7" fill="#d9cec4"/>
<rect x="2405.7" y="1373.9" width="198" height="7" fill="#d9cec4"/>
<rect x="2466.6" y="1274.5" width="77" height="113.5" fill="#8fc0e4"/>
<rect x="2481" y="1303" width="49" height="57" fill="#e6c774"/>
<g opacity="0.85"><rect x="2486" y="1308" width="5" height="5" fill="#d33"/><rect x="2486" y="1316.3" width="5" height="5" fill="#3a3"/><rect x="2486" y="1324.6" width="5" height="5" fill="#d33"/><rect x="2486" y="1332.9" width="5" height="5" fill="#3a3"/><rect x="2486" y="1341.2" width="5" height="5" fill="#d33"/><rect x="2486" y="1349.5" width="5" height="5" fill="#3a3"/><rect x="2494.2" y="1308" width="5" height="5" fill="#3a3"/><rect x="2494.2" y="1316.3" width="5" height="5" fill="#d33"/><rect x="2494.2" y="1324.6" width="5" height="5" fill="#3a3"/><rect x="2494.2" y="1332.9" width="5" height="5" fill="#d33"/><rect x="2494.2" y="1341.2" width="5" height="5" fill="#3a3"/><rect x="2494.2" y="1349.5" width="5" height="5" fill="#d33"/><rect x="2502.4" y="1308" width="5" height="5" fill="#d33"/><rect x="2502.4" y="1316.3" width="5" height="5" fill="#3a3"/><rect x="2502.4" y="1324.6" width="5" height="5" fill="#d33"/><rect x="2502.4" y="1332.9" width="5" height="5" fill="#3a3"/><rect x="2502.4" y="1341.2" width="5" height="5" fill="#d33"/><rect x="2502.4" y="1349.5" width="5" height="5" fill="#3a3"/><rect x="2510.6" y="1308" width="5" height="5" fill="#3a3"/><rect x="2510.6" y="1316.3" width="5" height="5" fill="#d33"/><rect x="2510.6" y="1324.6" width="5" height="5" fill="#3a3"/><rect x="2510.6" y="1332.9" width="5" height="5" fill="#d33"/><rect x="2510.6" y="1341.2" width="5" height="5" fill="#3a3"/><rect x="2510.6" y="1349.5" width="5" height="5" fill="#d33"/><rect x="2518.8" y="1308" width="5" height="5" fill="#d33"/><rect x="2518.8" y="1316.3" width="5" height="5" fill="#3a3"/><rect x="2518.8" y="1324.6" width="5" height="5" fill="#d33"/><rect x="2518.8" y="1332.9" width="5" height="5" fill="#3a3"/><rect x="2518.8" y="1341.2" width="5" height="5" fill="#d33"/><rect x="2518.8" y="1349.5" width="5" height="5" fill="#3a3"/></g>
<g fill="none" stroke="#fff" stroke-width="8">
<path d="M2538,1198 A36,36 0 1 0 2541,1216 H2522"/>
</g>
<g fill="none" stroke="#fff" stroke-width="6">
<path d="M2497,1200 H2510 A16,13 0 0 1 2510,1226 H2497 Z"/>
<path d="M2485,1201 H2497 M2485,1213 H2497 M2485,1224 H2497" stroke-width="4.5"/>
</g>
<circle cx="2519" cy="1214" r="3.5" fill="#fff"/>
<path d="M2499.1,1427.3 L2500.3,1419.2 L2512.7,1419.2 L2513.9,1427.3 L2515.2,1427.9 L2521.8,1422.9 L2530.6,1431.7 L2525.6,1438.3 L2526.2,1439.6 L2534.3,1440.8 L2534.3,1453.2 L2526.2,1454.4 L2525.6,1455.7 L2530.6,1462.3 L2521.8,1471.1 L2515.2,1466.1 L2513.9,1466.7 L2512.7,1474.8 L2500.3,1474.8 L2499.1,1466.7 L2497.8,1466.1 L2491.2,1471.1 L2482.4,1462.3 L2487.4,1455.7 L2486.8,1454.4 L2478.7,1453.2 L2478.7,1440.8 L2486.8,1439.6 L2487.4,1438.3 L2482.4,1431.7 L2491.2,1422.9 L2497.8,1427.9 Z" fill="#fff"/><circle cx="2506.5" cy="1447" r="22" fill="#fff"/><path d="M2506.5,1445 L2493.8,1415.5 L2519.2,1415.5 Z" fill="#1e86cc"/><circle cx="2506.5" cy="1447" r="7" fill="#1e86cc"/>
<rect x="2128" y="1186.5" width="73" height="289.5" fill="none" stroke="#8ccbf0" stroke-width="1.8"/>
<rect x="2809.5" y="1186.5" width="75" height="289.5" fill="none" stroke="#8ccbf0" stroke-width="1.8"/>
<path d="M2145,1198 H2184 L2199,1213 V1249 L2184,1264 H2145 L2130,1249 V1213 Z" fill="#3f3f3f"/>
<path d="M2826.5,1198 H2865.5 L2880.5,1213 V1249 L2865.5,1264 H2826.5 L2811.5,1249 V1213 Z" fill="#3f3f3f"/>
<path d="M2145,1264.5 H2184 L2199,1279.5 V1315.5 L2184,1330.5 H2145 L2130,1315.5 V1279.5 Z" fill="#3f3f3f"/>
<path d="M2826.5,1264.5 H2865.5 L2880.5,1279.5 V1315.5 L2865.5,1330.5 H2826.5 L2811.5,1315.5 V1279.5 Z" fill="#3f3f3f"/>
<path d="M2145,1331 H2184 L2199,1346 V1382 L2184,1397 H2145 L2130,1382 V1346 Z" fill="#3f3f3f"/>
<path d="M2826.5,1331 H2865.5 L2880.5,1346 V1382 L2865.5,1397 H2826.5 L2811.5,1382 V1346 Z" fill="#3f3f3f"/>
<path d="M2145,1397.5 H2184 L2199,1412.5 V1448.5 L2184,1463.5 H2145 L2130,1448.5 V1412.5 Z" fill="#3f3f3f"/>
<path d="M2826.5,1397.5 H2865.5 L2880.5,1412.5 V1448.5 L2865.5,1463.5 H2826.5 L2811.5,1448.5 V1412.5 Z" fill="#3f3f3f"/>
<circle cx="2163" cy="1231" r="15.5" fill="#55d855" stroke="#2a8f2a" stroke-width="3.5"/>
<circle cx="2163" cy="1297.5" r="15.5" fill="#55d855" stroke="#2a8f2a" stroke-width="3.5"/>
<rect x="2153.5" y="1353" width="22" height="22" fill="#b8876e"/>
<rect x="2157" y="1356.5" width="15" height="15" fill="#d23c23"/>
<circle cx="2163" cy="1430.5" r="15.5" fill="#55d855" stroke="#2a8f2a" stroke-width="3.5"/>
<circle cx="2846" cy="1231" r="15.5" fill="#55d855" stroke="#2a8f2a" stroke-width="3.5"/>
<circle cx="2846" cy="1297.5" r="15.5" fill="#55d855" stroke="#2a8f2a" stroke-width="3.5"/>
<circle cx="2846" cy="1364" r="15.5" fill="#55d855" stroke="#2a8f2a" stroke-width="3.5"/>
<circle cx="2846" cy="1430.5" r="15.5" fill="#55d855" stroke="#2a8f2a" stroke-width="3.5"/>
<text transform="translate(2227.5,1235) rotate(-90)" font-family="Liberation Mono" font-size="31" fill="#fff" text-anchor="middle">S0</text>
<text transform="translate(2227.5,1300.7) rotate(-90)" font-family="Liberation Mono" font-size="31" fill="#fff" text-anchor="middle">S1</text>
<text transform="translate(2227.5,1363) rotate(-90)" font-family="Liberation Mono" font-size="31" fill="#fff" text-anchor="middle">OE</text>
<text transform="translate(2227.5,1432) rotate(-90)" font-family="Liberation Mono" font-size="31" fill="#fff" text-anchor="middle">Gnd</text>
<text transform="translate(2785,1232) rotate(90)" font-family="Liberation Mono" font-size="31" fill="#fff" text-anchor="middle">S3</text>
<text transform="translate(2785,1299) rotate(90)" font-family="Liberation Mono" font-size="31" fill="#fff" text-anchor="middle">S2</text>
<text transform="translate(2785,1363) rotate(90)" font-family="Liberation Mono" font-size="31" fill="#fff" text-anchor="middle">Out</text>
<text transform="translate(2785,1428.7) rotate(90)" font-family="Liberation Mono" font-size="31" fill="#fff" text-anchor="middle">Vcc</text>
</g>
<defs>
<mask id="m_red" maskUnits="userSpaceOnUse" x="0" y="0" width="3339" height="2434"><rect width="3339" height="2434" fill="#fff"/><circle cx="832" cy="1639" r="15" fill="#000"/><circle cx="2846" cy="1430.5" r="15" fill="#000"/></mask>
<clipPath id="c_red"><circle cx="832" cy="1639" r="15"/><circle cx="2846" cy="1430.5" r="15"/></clipPath>
<mask id="m_black" maskUnits="userSpaceOnUse" x="0" y="0" width="3339" height="2434"><rect width="3339" height="2434" fill="#fff"/><circle cx="1031.5" cy="1639" r="15" fill="#000"/><circle cx="2163" cy="1430.5" r="15" fill="#000"/></mask>
<clipPath id="c_black"><circle cx="1031.5" cy="1639" r="15"/><circle cx="2163" cy="1430.5" r="15"/></clipPath>
<mask id="m_yellow" maskUnits="userSpaceOnUse" x="0" y="0" width="3339" height="2434"><rect width="3339" height="2434" fill="#fff"/><circle cx="765" cy="1039" r="15" fill="#000"/><circle cx="2163" cy="1297.5" r="15" fill="#000"/></mask>
<clipPath id="c_yellow"><circle cx="765" cy="1039" r="15"/><circle cx="2163" cy="1297.5" r="15"/></clipPath>
<mask id="m_magenta" maskUnits="userSpaceOnUse" x="0" y="0" width="3339" height="2434"><rect width="3339" height="2434" fill="#fff"/><circle cx="698.5" cy="1039" r="15" fill="#000"/><circle cx="2163" cy="1231" r="15" fill="#000"/></mask>
<clipPath id="c_magenta"><circle cx="698.5" cy="1039" r="15"/><circle cx="2163" cy="1231" r="15"/></clipPath>
<mask id="m_orange" maskUnits="userSpaceOnUse" x="0" y="0" width="3339" height="2434"><rect width="3339" height="2434" fill="#fff"/><circle cx="632" cy="1039" r="15" fill="#000"/><circle cx="2846" cy="1231" r="15" fill="#000"/></mask>
<clipPath id="c_orange"><circle cx="632" cy="1039" r="15"/><circle cx="2846" cy="1231" r="15"/></clipPath>
<mask id="m_cyan" maskUnits="userSpaceOnUse" x="0" y="0" width="3339" height="2434"><rect width="3339" height="2434" fill="#fff"/><circle cx="299" cy="1039" r="15" fill="#000"/><circle cx="2846" cy="1297.5" r="15" fill="#000"/></mask>
<clipPath id="c_cyan"><circle cx="299" cy="1039" r="15"/><circle cx="2846" cy="1297.5" r="15"/></clipPath>
<mask id="m_purple" maskUnits="userSpaceOnUse" x="0" y="0" width="3339" height="2434"><rect width="3339" height="2434" fill="#fff"/><circle cx="232" cy="1039" r="15" fill="#000"/><circle cx="2846" cy="1364" r="15" fill="#000"/></mask>
<clipPath id="c_purple"><circle cx="232" cy="1039" r="15"/><circle cx="2846" cy="1364" r="15"/></clipPath>
</defs>
<g id="wires" fill="none" stroke-linecap="round">
<g mask="url(#m_red)"><path d="M832,1639 C1581.9,2030.5 4438.9,3275.7 2846,1430.5" stroke="#8b0000" stroke-width="29"/><path d="M832,1639 C1581.9,2030.5 4438.9,3275.7 2846,1430.5" stroke="#cc1414" stroke-width="17"/></g>
<g clip-path="url(#c_red)" opacity="0.5"><path d="M832,1639 C1581.9,2030.5 4438.9,3275.7 2846,1430.5" stroke="#8b0000" stroke-width="29"/><path d="M832,1639 C1581.9,2030.5 4438.9,3275.7 2846,1430.5" stroke="#cc1414" stroke-width="17"/></g>
<g mask="url(#m_black)"><path d="M1031.5,1639 C2728.4,2624.9 1698.3,1452.1 2163,1430.5" stroke="#000000" stroke-width="29"/><path d="M1031.5,1639 C2728.4,2624.9 1698.3,1452.1 2163,1430.5" stroke="#404040" stroke-width="16"/></g>
<g clip-path="url(#c_black)" opacity="0.5"><path d="M1031.5,1639 C2728.4,2624.9 1698.3,1452.1 2163,1430.5" stroke="#000000" stroke-width="29"/><path d="M1031.5,1639 C2728.4,2624.9 1698.3,1452.1 2163,1430.5" stroke="#404040" stroke-width="16"/></g>
<g mask="url(#m_yellow)"><path d="M765,1039 C2863.2,56.7 1429.6,1248.4 2163,1297.5" stroke="#d8d420" stroke-width="29"/><path d="M765,1039 C2863.2,56.7 1429.6,1248.4 2163,1297.5" stroke="#fff500" stroke-width="16"/></g>
<g clip-path="url(#c_yellow)" opacity="0.5"><path d="M765,1039 C2863.2,56.7 1429.6,1248.4 2163,1297.5" stroke="#d8d420" stroke-width="29"/><path d="M765,1039 C2863.2,56.7 1429.6,1248.4 2163,1297.5" stroke="#fff500" stroke-width="16"/></g>
<g mask="url(#m_magenta)"><path d="M698.5,1039 C3146,-205.9 1624.8,1093.4 2163,1231" stroke="#d800d8" stroke-width="29"/><path d="M698.5,1039 C3146,-205.9 1624.8,1093.4 2163,1231" stroke="#ff4cf0" stroke-width="17"/></g>
<g clip-path="url(#c_magenta)" opacity="0.5"><path d="M698.5,1039 C3146,-205.9 1624.8,1093.4 2163,1231" stroke="#d800d8" stroke-width="29"/><path d="M698.5,1039 C3146,-205.9 1624.8,1093.4 2163,1231" stroke="#ff4cf0" stroke-width="17"/></g>
<g mask="url(#m_orange)"><path d="M632,1039 C1126.4,690.5 3744.2,-564.1 2846,1231" stroke="#b0703c" stroke-width="29"/><path d="M632,1039 C1126.4,690.5 3744.2,-564.1 2846,1231" stroke="#f06000" stroke-width="15"/></g>
<g clip-path="url(#c_orange)" opacity="0.5"><path d="M632,1039 C1126.4,690.5 3744.2,-564.1 2846,1231" stroke="#b0703c" stroke-width="29"/><path d="M632,1039 C1126.4,690.5 3744.2,-564.1 2846,1231" stroke="#f06000" stroke-width="15"/></g>
<g mask="url(#m_cyan)"><path d="M299,1039 C1025.4,626.4 3923.2,-830.5 2846,1297.5" stroke="#0aa0c8" stroke-width="29"/><path d="M299,1039 C1025.4,626.4 3923.2,-830.5 2846,1297.5" stroke="#33ffc8" stroke-width="15"/></g>
<g clip-path="url(#c_cyan)" opacity="0.5"><path d="M299,1039 C1025.4,626.4 3923.2,-830.5 2846,1297.5" stroke="#0aa0c8" stroke-width="29"/><path d="M299,1039 C1025.4,626.4 3923.2,-830.5 2846,1297.5" stroke="#33ffc8" stroke-width="15"/></g>
<g mask="url(#m_purple)"><path d="M232,1039 C1149.2,612.1 4208.1,-1163.3 2846,1364" stroke="#7b3a82" stroke-width="29"/><path d="M232,1039 C1149.2,612.1 4208.1,-1163.3 2846,1364" stroke="#ab5aab" stroke-width="19"/></g>
<g clip-path="url(#c_purple)" opacity="0.5"><path d="M232,1039 C1149.2,612.1 4208.1,-1163.3 2846,1364" stroke="#7b3a82" stroke-width="29"/><path d="M232,1039 C1149.2,612.1 4208.1,-1163.3 2846,1364" stroke="#ab5aab" stroke-width="19"/></g>
</g>
</svg></body></html>
